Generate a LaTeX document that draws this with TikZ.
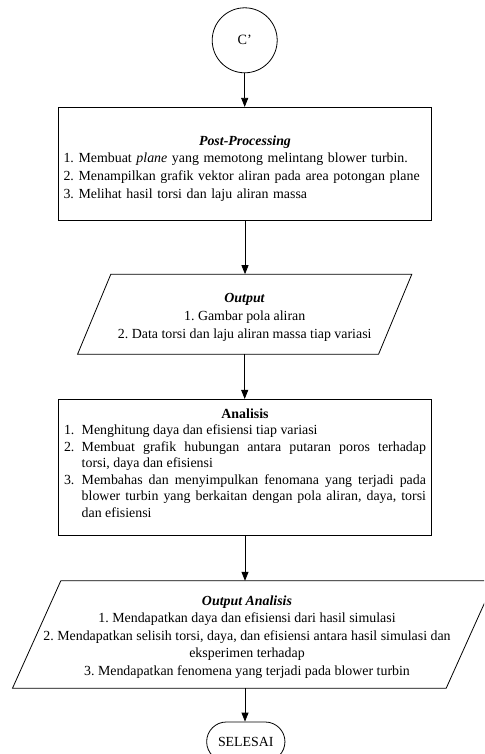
\documentclass[tikz,border=0pt]{standalone}
\usepackage{fontspec}
\setmainfont{Liberation Serif}
\usetikzlibrary{arrows.meta}
\frenchspacing
\tikzset{
  ln/.style={line width=0.8pt},
  arr/.style={ln, -{Triangle[length=9pt,width=7pt]}},
  boxnode/.style={ln, draw, rectangle, inner sep=5pt},
  txt/.style={font=\fontsize{13.9}{17.6}\selectfont\frenchspacing},
}
\begin{document}
\begin{tikzpicture}[x=1pt,y=-1pt]
\fill[white] (0,0) rectangle (484,754);
\clip (0,0) rectangle (484,754);

% start connector
\node[ln, draw, circle, minimum size=65, inner sep=0pt, font=\fontsize{14.2}{17}\selectfont] (c) at (244.7,40.3) {C’};

% Post-Processing box
\node[boxnode, txt, minimum width=373.4, minimum height=112.7, text width=363, align=left] (pp) at (245,163.7)
{{\centering\rule{0pt}{19pt}\textbf{\textit{Post-Processing}}\par}
1. Membuat \textit{plane} yang memotong melintang blower turbin.\par
2. Menampilkan grafik vektor aliran pada area potongan plane\par
3. Melihat hasil torsi dan laju aliran massa};

% Output parallelogram
\node[font=\fontsize{13.9}{18.2}\selectfont\frenchspacing, align=center, minimum width=300.6, minimum height=79.7, inner sep=0pt] (out) at (244.7,314.2)
{\rule{0pt}{16pt}\textbf{\textit{Output}}\\1. Gambar pola aliran\\2. Data torsi dan laju aliran massa tiap variasi};
\draw[ln] ([xshift=16.65pt]out.north west) -- ([xshift=16.65pt]out.north east)
  -- ([xshift=-16.65pt]out.south east) -- ([xshift=-16.65pt]out.south west) -- cycle;

% Analisis box
\node[boxnode, font=\fontsize{13.9}{16.5}\selectfont\frenchspacing, minimum width=373.4, minimum height=135.7, text width=362, align=justify] (an) at (245,467.2)
{{\centering\textbf{Analisis}\par}
\hangindent=17.7pt\hangafter=1\noindent\makebox[17.7pt][l]{1.}Menghitung daya dan efisiensi tiap variasi\par
\hangindent=17.7pt\hangafter=1\noindent\makebox[17.7pt][l]{2.}Membuat grafik hubungan antara putaran poros terhadap\linebreak torsi, daya dan efisiensi\par
\hangindent=17.7pt\hangafter=1\noindent\makebox[17.7pt][l]{3.}Membahas dan menyimpulkan fenomana yang terjadi pada\linebreak blower turbin yang berkaitan dengan pola aliran, daya, torsi\linebreak dan efisiensi\rule[-9pt]{0pt}{9pt}\par};

% Output Analisis parallelogram
\node[minimum width=433.3, minimum height=107, inner sep=0pt] (oas) at (253.5,634.5) {};
\draw[ln] ([xshift=24.15pt]oas.north west) -- ([xshift=24.15pt]oas.north east)
  -- ([xshift=-24.15pt]oas.south east) -- ([xshift=-24.15pt]oas.south west) -- cycle;
\node[font=\fontsize{13.9}{17.5}\selectfont\frenchspacing, align=center, inner sep=0pt] (oa) at (247,636.7)
{\textbf{\textit{Output Analisis}}\\
1. Mendapatkan daya dan efisiensi dari hasil simulasi\\
2. Mendapatkan selisih torsi, daya, dan efisiensi antara hasil simulasi dan\\
eksperimen terhadap\\
3. Mendapatkan fenomena yang terjadi pada blower turbin};

% end terminal
\node[ln, draw, rectangle, rounded corners=19.7pt, minimum width=78.3, minimum height=39.4, inner sep=0pt, txt] (end) at (245.8,741.7) {SELESAI};

% connectors
\draw[arr] (c.south) -- (c.south |- pp.north);
\draw[arr] (pp.south) -- (pp.south |- out.north);
\draw[arr] (out.south) -- (out.south |- an.north);
\draw[arr] (an.south) -- (an.south |- oas.north);
\draw[arr] (an.south |- oas.south) -- (an.south |- end.north);
\end{tikzpicture}
\end{document}
